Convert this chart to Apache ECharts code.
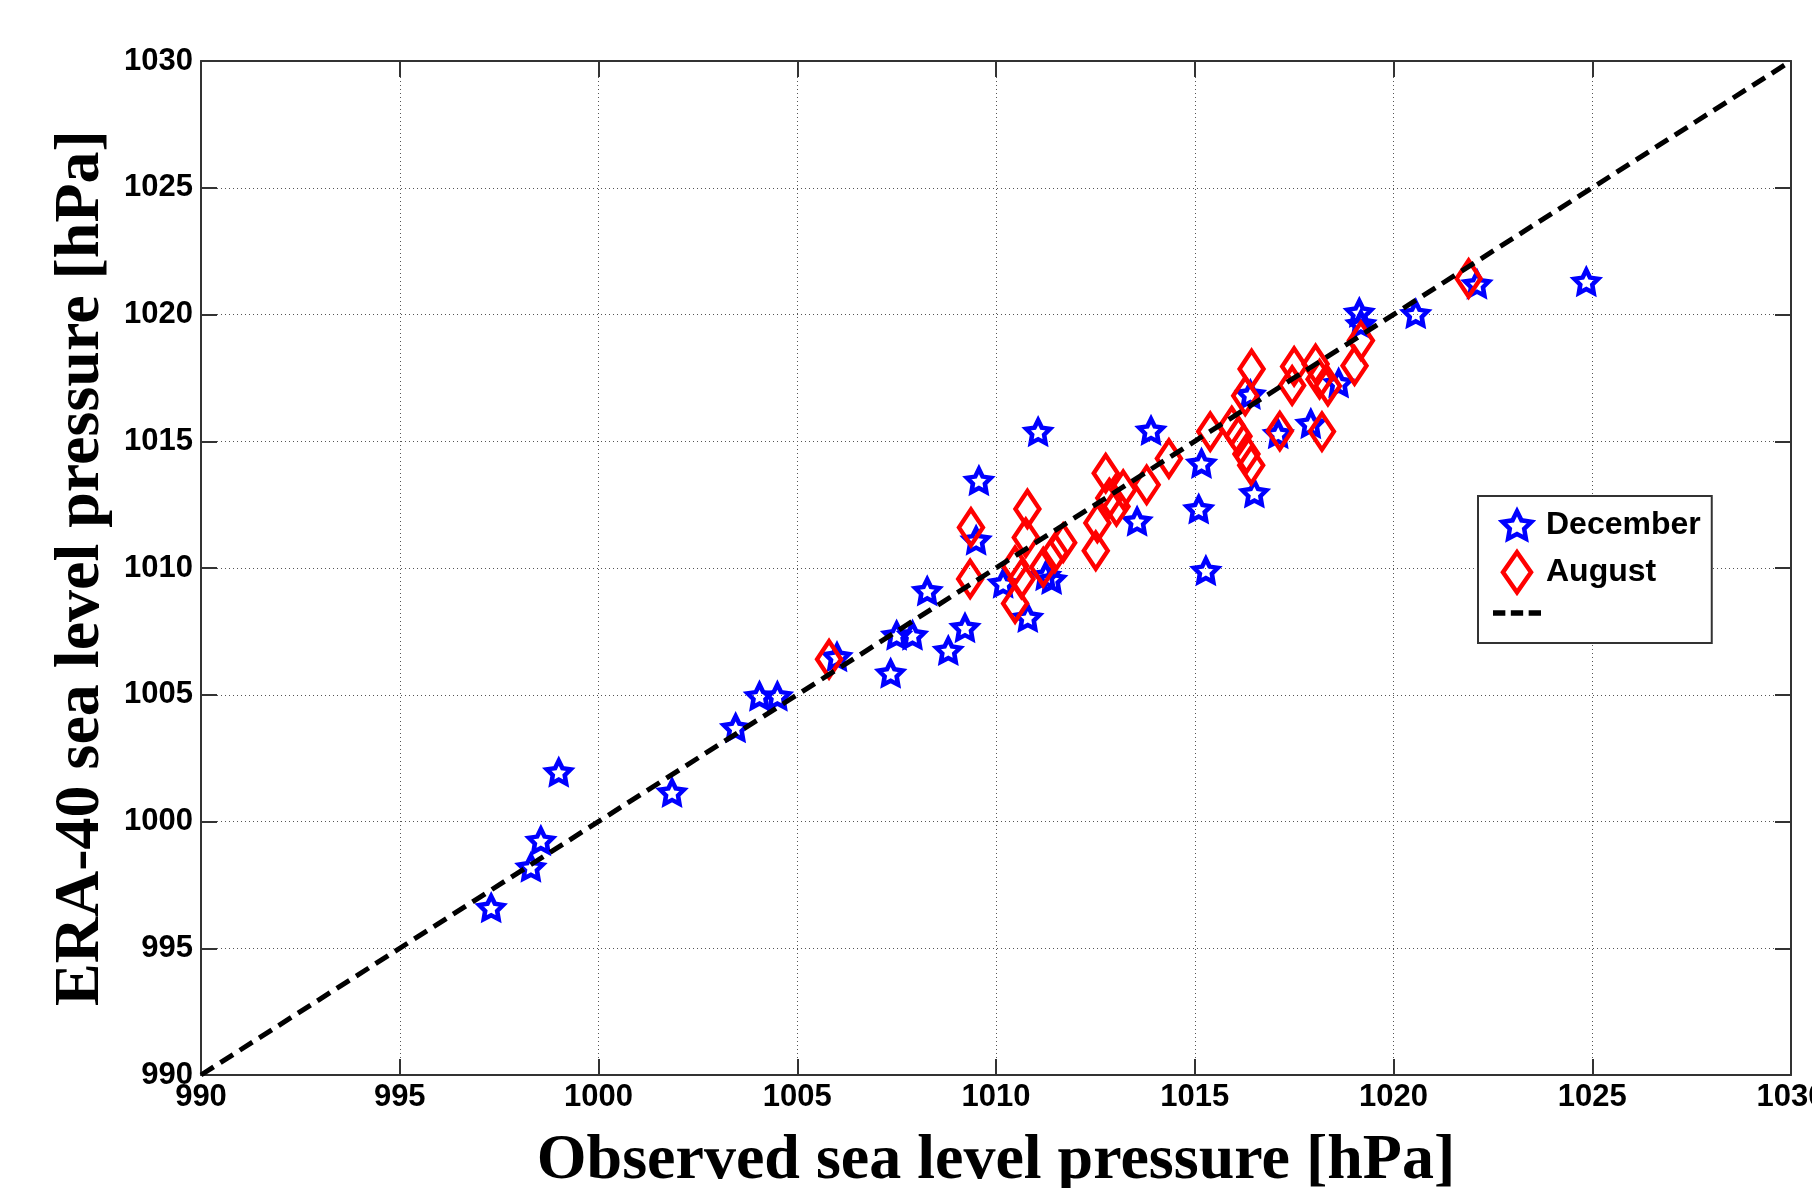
<!DOCTYPE html>
<html><head><meta charset="utf-8">
<script src="https://cdn.jsdelivr.net/npm/echarts@6/dist/echarts.min.js"></script>
<style>html,body{margin:0;padding:0;background:#fff}#c{width:1812px;height:1188px}</style>
</head><body><div id="c"></div>
<script>
// ---- data ----
const decemberObs = [997.3, 998.3, 998.55, 999.0, 1001.85, 1003.45, 1004.05, 1004.5, 1006.0, 1007.35,
  1007.5, 1007.9, 1008.27, 1008.8, 1009.22, 1009.57, 1009.5, 1010.18, 1010.8, 1011.06,
  1011.25, 1011.4, 1013.55, 1013.9, 1015.1, 1015.17, 1015.28, 1016.5, 1016.4, 1017.1,
  1017.92, 1018.62, 1019.14, 1019.18, 1020.56, 1022.1, 1024.85];
const decemberEra = [996.6, 998.2, 999.25, 1001.95, 1001.15, 1003.7, 1004.95, 1004.95, 1006.5, 1005.85,
  1007.35, 1007.35, 1009.1, 1006.75, 1007.65, 1013.45, 1011.1, 1009.4, 1008.05, 1015.38,
  1009.7, 1009.55, 1011.85, 1015.43, 1012.33, 1014.13, 1009.9, 1012.96, 1016.85, 1015.3,
  1015.7, 1017.3, 1020.08, 1019.63, 1020.03, 1021.2, 1021.3];
const augustObs = [1005.8, 1009.37, 1009.35, 1010.79, 1010.75, 1010.48, 1010.48, 1010.64, 1011.19, 1011.48,
  1011.69, 1012.51, 1012.55, 1012.76, 1012.85, 1013.03, 1013.2, 1013.79, 1014.35, 1015.39,
  1015.93, 1016.1, 1016.3, 1016.42, 1016.27, 1016.43, 1017.14, 1018.2, 1017.45, 1017.5,
  1018.04, 1018.14, 1018.35, 1019.02, 1019.18, 1021.89];
const augustEra = [1006.4, 1011.6, 1009.57, 1012.33, 1011.2, 1010.09, 1008.6, 1009.57, 1010.03, 1010.6,
  1011.0, 1010.68, 1011.78, 1013.74, 1012.76, 1012.43, 1013.09, 1013.28, 1014.32, 1015.38,
  1015.6, 1015.2, 1014.5, 1014.05, 1016.79, 1017.85, 1015.4, 1015.38, 1017.2, 1017.95,
  1018.05, 1017.45, 1017.18, 1017.98, 1018.97, 1021.42];
const oneToOne = [990, 1030];
const axisTicks = [990, 995, 1000, 1005, 1010, 1015, 1020, 1025, 1030];
const seriesNames = ['December', 'August', ' '];
const xTitle = 'Observed sea level pressure [hPa]';
const yTitle = 'ERA-40 sea level pressure [hPa]';

// ---- build ----
const pair = (xs, ys) => xs.map((x, i) => [x, ys[i]]);
const starShape = 'M50 0 L64.69 29.77 L97.55 34.55 L73.78 57.73 L79.39 90.45 L50 75 L20.61 90.45 L26.22 57.73 L2.45 34.55 L35.31 29.77 Z';
const starPath = 'path://' + starShape;
// legend copy with an empty margin so the icon is drawn a little smaller than the box
const starLegendPath = 'path://' + starShape + ' M50 -20 L50 -20 M50 112 L50 112';
const diamondPath = 'path://M35 0 L70 50 L35 100 L0 50 Z';
const dashPath = 'path://M0 0 H9 V4 H0 Z M13 0 H22 V4 H13 Z M26 0 H35 V4 H26 Z';
const sansBold = {fontFamily: '"Liberation Sans", Arial, sans-serif', fontWeight: 'bold', color: '#000'};
const serifBold = {fontFamily: '"Liberation Serif", "Times New Roman", serif', fontWeight: 'bold', color: '#000', fontSize: 64};

const tickMin = axisTicks[0], tickMax = axisTicks[axisTicks.length - 1], step = axisTicks[1] - axisTicks[0];
const frameLine = {show: true, lineStyle: {color: '#333', width: 2}};
const inTick = {show: true, inside: true, length: 16, lineStyle: {color: '#333', width: 2}};
const dotted = {show: true, lineStyle: {color: '#555', width: 1, type: [1, 3]}};
const plainNum = v => String(v);

const chart = echarts.init(document.getElementById('c'), null, {renderer: 'canvas'});
chart.setOption({
  animation: false,
  backgroundColor: '#fff',
  grid: {left: 201, right: 21, top: 61, bottom: 113, containLabel: false, outerBoundsMode: 'none'},
  xAxis: [
    {type: 'value', min: tickMin, max: tickMax, interval: step, position: 'bottom',
     axisLine: frameLine, axisTick: inTick, splitLine: dotted,
     axisLabel: Object.assign({fontSize: 31, margin: 7, showMinLabel: true, showMaxLabel: true, formatter: plainNum}, sansBold),
     name: xTitle, nameLocation: 'middle', nameGap: 54, nameTextStyle: serifBold},
    {type: 'value', min: tickMin, max: tickMax, interval: step, position: 'top',
     axisLine: frameLine, axisTick: inTick, splitLine: {show: false}, axisLabel: {show: false}}
  ],
  yAxis: [
    {type: 'value', min: tickMin, max: tickMax, interval: step, position: 'left',
     axisLine: frameLine, axisTick: inTick, splitLine: dotted,
     axisLabel: Object.assign({fontSize: 31, margin: 8, showMinLabel: true, showMaxLabel: true, formatter: plainNum}, sansBold),
     name: yTitle, nameLocation: 'middle', nameGap: 80, nameTextStyle: serifBold},
    {type: 'value', min: tickMin, max: tickMax, interval: step, position: 'right',
     axisLine: frameLine, axisTick: inTick, splitLine: {show: false}, axisLabel: {show: false}}
  ],
  legend: {
    orient: 'vertical', left: 1478, top: 496,
    padding: [7, 11, 14, 15], itemGap: 2.5, itemWidth: 48, itemHeight: 40,
    symbolKeepAspect: true,
    backgroundColor: '#fff', borderColor: '#333', borderWidth: 2, borderRadius: 0,
    textStyle: Object.assign({fontSize: 32}, sansBold),
    data: [
      {name: seriesNames[0], icon: starLegendPath, itemStyle: {color: 'transparent', borderColor: '#0000ff', borderWidth: 4.5}},
      {name: seriesNames[1], icon: diamondPath, itemStyle: {color: 'transparent', borderColor: '#ff0000', borderWidth: 4.5}},
      {name: seriesNames[2], icon: dashPath, itemStyle: {color: '#000', borderWidth: 0}}
    ]
  },
  series: [
    {name: seriesNames[0], type: 'scatter', data: pair(decemberObs, decemberEra),
     symbol: starPath, symbolSize: [24, 23],
     itemStyle: {color: 'transparent', borderColor: '#0000ff', borderWidth: 4.5, opacity: 1}},
    {name: seriesNames[1], type: 'scatter', data: pair(augustObs, augustEra),
     symbol: 'diamond', symbolSize: [24, 36],
     itemStyle: {color: 'transparent', borderColor: '#ff0000', borderWidth: 4.5, opacity: 1}},
    {name: seriesNames[2], type: 'line', data: pair(oneToOne, oneToOne),
     showSymbol: false, symbol: 'none', itemStyle: {color: '#000'},
     lineStyle: {color: '#000', width: 5, type: [15, 8]}}
  ]
});
</script></body></html>
